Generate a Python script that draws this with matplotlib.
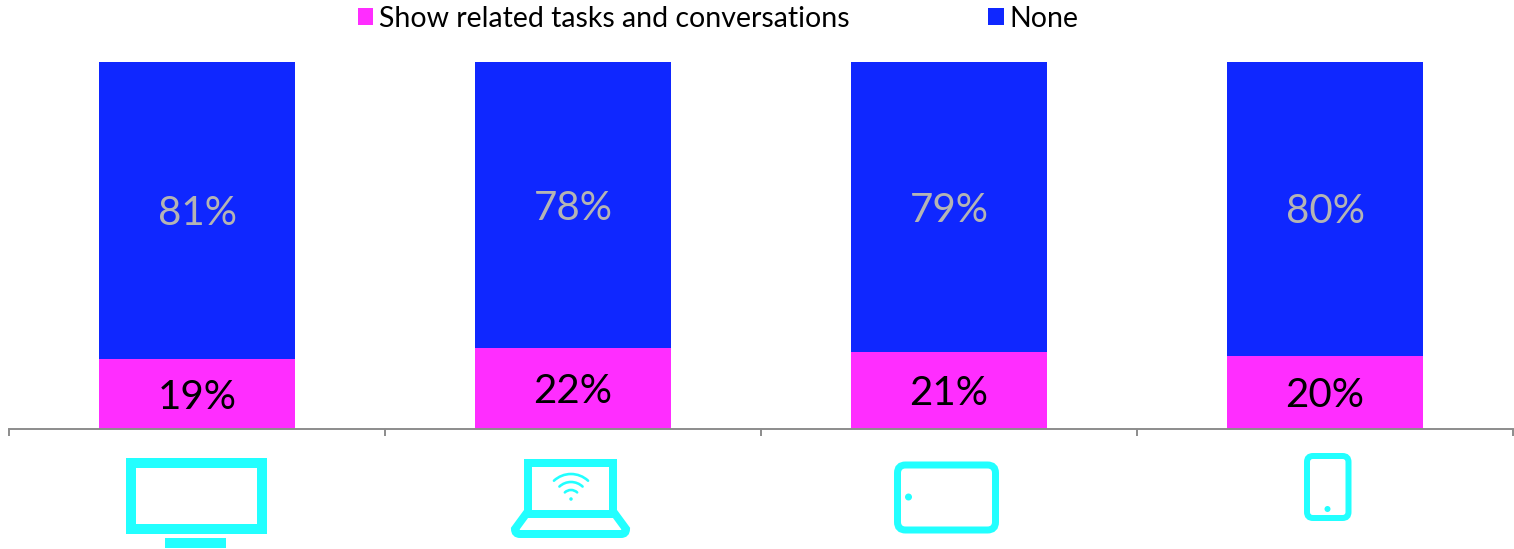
import numpy as np
import matplotlib
matplotlib.use('Agg')
import matplotlib.pyplot as plt
from matplotlib.patches import Rectangle, FancyBboxPatch, PathPatch, Arc, Ellipse
from matplotlib.path import Path

# Data
devices = ['TV', 'Laptop', 'Tablet', 'Phone']
related = [19, 22, 21, 20]
none = [81, 78, 79, 80]
series_names = ['Show related tasks and conversations', 'None']

MAGENTA = '#FF2DFF'
BLUE = '#0F27FF'
CYAN = '#22FFFF'
W, H = 1514, 549

plt.rcParams['font.family'] = ['Lato', 'DejaVu Sans']

fig = plt.figure(figsize=(W / 100, H / 100), dpi=100)
ax = fig.add_axes([9 / W, 1 - 429 / H, 1504 / W, 367 / H])

x = np.arange(len(devices))
bars1 = ax.bar(x, related, width=0.52, color=MAGENTA, label=series_names[0])
bars2 = ax.bar(x, none, width=0.52, bottom=related, color=BLUE, label=series_names[1])

labels1 = ax.bar_label(bars1, labels=[f'{v}%' for v in related], label_type='center',
                       color='black', fontsize=29)
labels2 = ax.bar_label(bars2, labels=[f'{v}%' for v in none], label_type='center',
                       color='#B4B4B4', fontsize=29)
# nudge the labels down a little
for lab in list(labels1) + list(labels2):
    lab.xyann = (0, -2.2)

ax.set_xlim(-0.5, 3.5)
ax.set_ylim(0, 100)
ax.set_yticks([])
ax.set_xticks(np.arange(-0.5, 4))
ax.set_xticklabels([])
ax.tick_params(axis='x', length=5, width=1.4, color='#8C8C8C')
for s in ['top', 'left', 'right']:
    ax.spines[s].set_visible(False)
ax.spines['bottom'].set_color('#8C8C8C')
ax.spines['bottom'].set_linewidth(1.4)

fig.legend(loc='upper left', bbox_to_anchor=(335.3 / W, 1 + 17 / H), ncol=2, frameon=False,
           fontsize=20.5, handlelength=0.53, handleheight=0.53, handletextpad=0.2,
           columnspacing=4.88, borderpad=0.3)

# Device icons, drawn in pixel coordinates of the figure
ic = fig.add_axes([0, 0, 1, 1], facecolor='none')
ic.set_xlim(0, W)
ic.set_ylim(H, 0)
ic.axis('off')
px = 0.72

# TV
ic.add_patch(Rectangle((131, 462.5), 131, 66.5, fill=False, ec=CYAN, lw=10 * px))
ic.add_patch(Rectangle((165, 538), 61, 10, color=CYAN, lw=0))

# Laptop
ic.add_patch(Rectangle((528, 462.5), 85, 51.5, fill=False, ec=CYAN, lw=8 * px, joinstyle='miter'))
verts = [(526, 514), (515, 529), (515, 534), (520, 534), (621, 534), (626, 534), (626, 529), (615, 514), (526, 514)]
codes = [Path.MOVETO, Path.LINETO, Path.CURVE3, Path.CURVE3, Path.LINETO, Path.CURVE3, Path.CURVE3, Path.LINETO, Path.CLOSEPOLY]
ic.add_patch(PathPatch(Path(verts, codes), fill=False, ec=CYAN, lw=8 * px))
for r in [25, 17, 9]:
    ic.add_patch(Arc((571, 499), 2 * r, 2 * r, theta1=227, theta2=313, ec=CYAN, lw=2.6 * px, capstyle='round'))
ic.add_patch(Ellipse((571, 499), 3.5, 3.5, color=CYAN, lw=0))

# Tablet
ic.add_patch(FancyBboxPatch((897.5, 465), 98, 65, boxstyle='round,pad=0,rounding_size=8',
                            fill=False, ec=CYAN, lw=7 * px))
ic.add_patch(Ellipse((908.5, 497), 7, 7, color=CYAN, lw=0))

# Phone
ic.add_patch(FancyBboxPatch((1307, 456), 41.5, 62, boxstyle='round,pad=0,rounding_size=6',
                            fill=False, ec=CYAN, lw=6 * px))
ic.add_patch(Ellipse((1327.5, 509), 6, 6, color=CYAN, lw=0))

fig.savefig('out.png', dpi=100)
